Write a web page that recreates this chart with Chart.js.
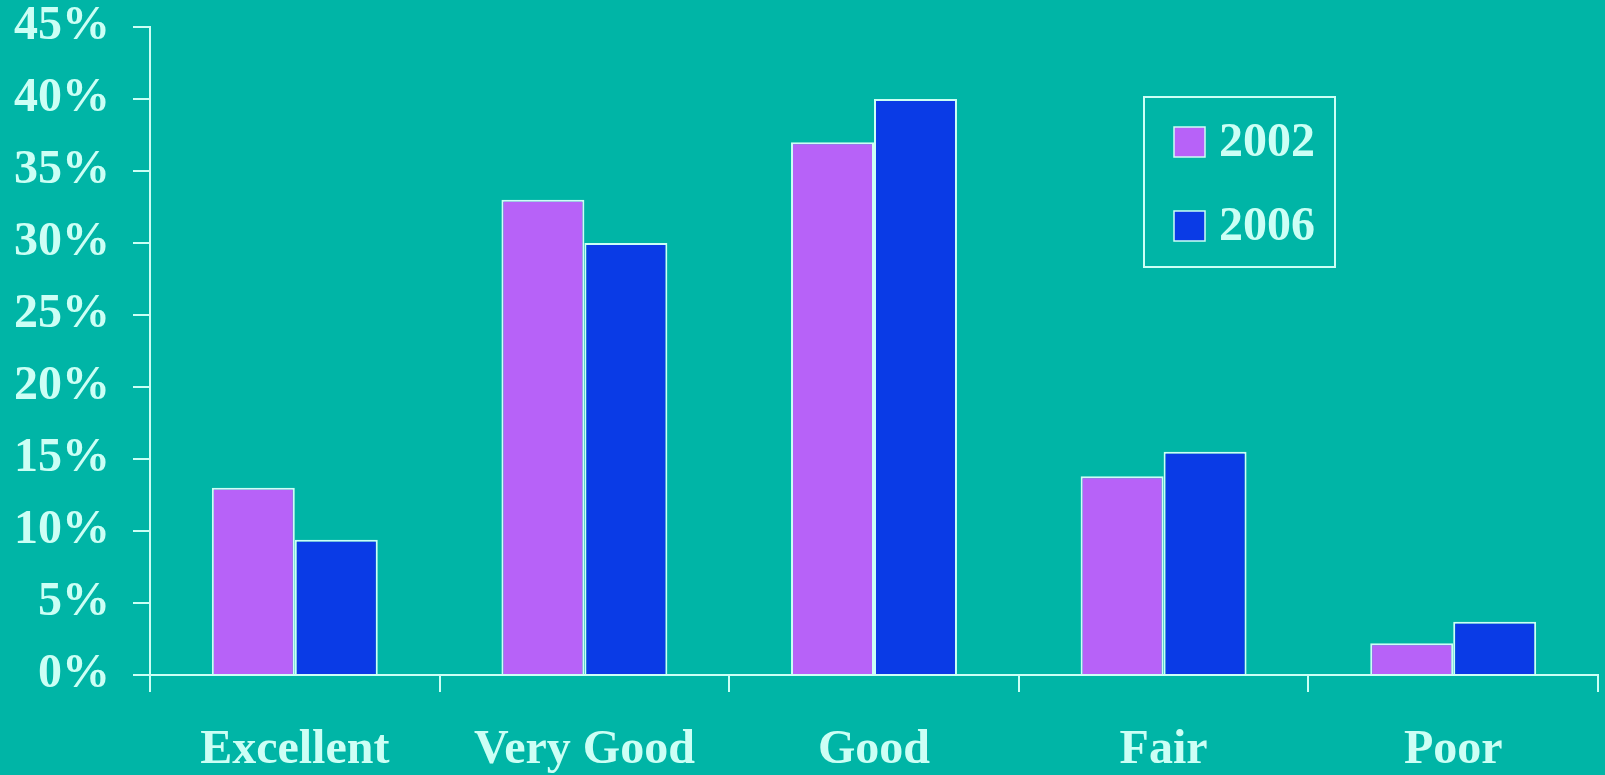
<!DOCTYPE html>
<html>
<head>
<meta charset="utf-8">
<script src="https://cdn.jsdelivr.net/npm/chart.js@4.4.1/dist/chart.umd.min.js"></script>
<style>
  html, body { margin: 0; padding: 0; background: #00B5A6; }
  #wrap { width: 1605px; height: 775px; }
</style>
</head>
<body>
<div id="wrap"><canvas id="myChart" width="1605" height="775"></canvas></div>
<script>
var categories = ['Excellent', 'Very Good', 'Good', 'Fair', 'Poor'];
var values2002 = [13, 33, 37, 13.8, 2.2];
var values2006 = [9.4, 30, 40, 15.5, 3.7];
var seriesNames = ['2002', '2006'];

var teal = '#00B5A6';
var pale = 'rgb(204, 255, 245)';
var font = { family: '"Liberation Serif", "Times New Roman", serif', size: 48, weight: 'bold' };

// solid background
var bgPlugin = {
    id: 'bg',
    beforeDraw: function (chart) {
        var c = chart.ctx;
        c.save();
        c.fillStyle = teal;
        c.fillRect(0, 0, chart.width, chart.height);
        c.restore();
    }
};

// boxed legend like the original slide
var boxLegend = {
    id: 'boxLegend',
    afterDraw: function (chart, args, opts) {
        var c = chart.ctx;
        c.save();
        c.strokeStyle = pale;
        c.lineWidth = 2;
        c.strokeRect(opts.x, opts.y, opts.w, opts.h);
        chart.data.datasets.forEach(function (ds, i) {
            var cy = opts.y + opts.firstRow + i * opts.rowGap;
            c.fillStyle = ds.backgroundColor;
            c.fillRect(opts.x + 30, cy - 15, 31, 30);
            c.strokeStyle = pale;
            c.lineWidth = 1.5;
            c.strokeRect(opts.x + 30, cy - 15, 31, 30);
            c.fillStyle = pale;
            c.font = 'bold 48px ' + font.family;
            c.textBaseline = 'middle';
            c.textAlign = 'left';
            c.fillText(ds.label, opts.x + 75, cy + 2);
        });
        c.restore();
    }
};

var ctx = document.getElementById('myChart').getContext('2d');
var myChart = new Chart(ctx, {
    type: 'bar',
    data: {
        labels: categories,
        datasets: [
            {
                label: seriesNames[0],
                data: values2002,
                backgroundColor: '#B762F8',
                borderColor: pale,
                borderWidth: 2
            },
            {
                label: seriesNames[1],
                data: values2006,
                backgroundColor: '#0A3BE6',
                borderColor: pale,
                borderWidth: 2
            }
        ]
    },
    plugins: [bgPlugin, boxLegend],
    options: {
        responsive: false,
        animation: false,
        layout: { padding: { top: 27, right: 7, left: 0, bottom: 0 } },
        datasets: {
            bar: { categoryPercentage: 0.573, barPercentage: 1.0 }
        },
        plugins: {
            legend: { display: false },
            tooltip: { enabled: false },
            boxLegend: { x: 1144, y: 97, w: 191, h: 170, firstRow: 45, rowGap: 84 }
        },
        scales: {
            x: {
                afterFit: function (s) { s.height = 100; s.paddingLeft = 0; s.paddingRight = 0; },
                border: { display: true, color: pale, width: 2 },
                grid: { display: true, drawOnChartArea: false, color: pale, lineWidth: 2, tickLength: 17, offset: true },
                ticks: { color: pale, font: font, padding: 30, maxRotation: 0 }
            },
            y: {
                min: 0,
                max: 45,
                afterFit: function (s) { s.width = 150; s.paddingTop = 0; s.paddingBottom = 0; },
                border: { display: true, color: pale, width: 2 },
                grid: { display: true, drawOnChartArea: false, color: pale, lineWidth: 2, tickLength: 17 },
                ticks: {
                    stepSize: 5,
                    color: pale,
                    font: font,
                    padding: 23,
                    callback: function (v) { return v + '%'; }
                }
            }
        }
    }
});
</script>
</body>
</html>
